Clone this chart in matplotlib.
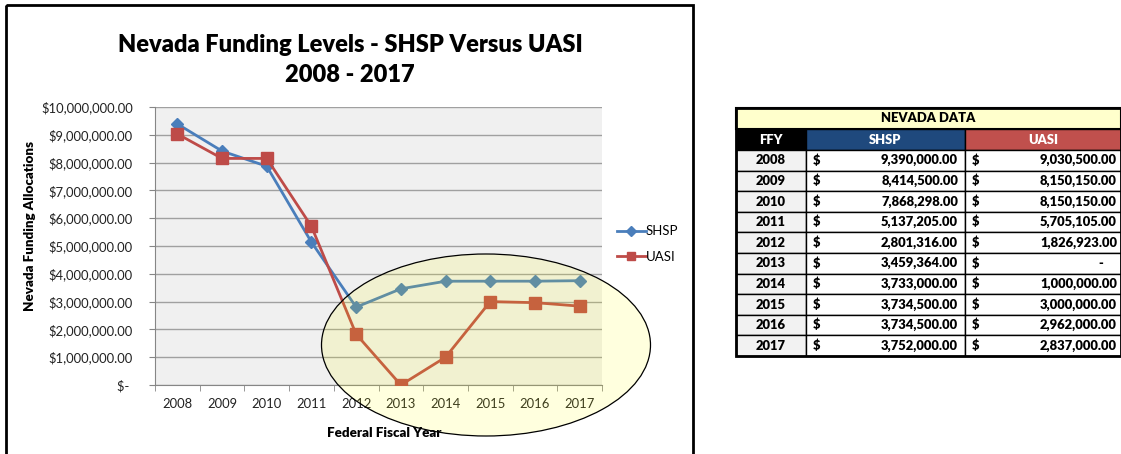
import matplotlib
matplotlib.use("Agg")
import matplotlib.pyplot as plt
from matplotlib.patches import Rectangle, Ellipse
from matplotlib.ticker import FixedLocator, NullFormatter

plt.rcParams['font.family'] = ['Lato', 'DejaVu Sans']

years = [2008, 2009, 2010, 2011, 2012, 2013, 2014, 2015, 2016, 2017]
shsp = [9390000.00, 8414500.00, 7868298.00, 5137205.00, 2801316.00,
        3459364.00, 3733000.00, 3734500.00, 3734500.00, 3752000.00]
uasi = [9030500.00, 8150150.00, 8150150.00, 5705105.00, 1826923.00,
        0.00, 1000000.00, 3000000.00, 2962000.00, 2837000.00]
y_ticks = [0, 1e6, 2e6, 3e6, 4e6, 5e6, 6e6, 7e6, 8e6, 9e6, 10e6]

W, H = 1121, 454
fig = plt.figure(figsize=(W / 100, H / 100), dpi=100)
fig.patch.set_facecolor('white')

def fx(px):
    return px / W

def fy(py):
    return 1 - py / H

# ---- line chart ----
L, R, T, B = 155, 602, 107, 385
ax = fig.add_axes([fx(L), fy(B), fx(R - L), (B - T) / H])
ax.set_facecolor('#f0f0f0')
x = list(range(len(years)))
ax.plot(x, shsp, color='#4a7ebb', lw=2.0, marker='D', ms=6.5, label='SHSP', zorder=3)
ax.plot(x, uasi, color='#be4b48', lw=2.0, marker='s', ms=8, label='UASI', zorder=3)
ax.set_xlim(-0.5, len(years) - 0.5)
ax.set_ylim(0, 10e6)
ax.set_yticks(y_ticks)

def money(v):
    if v == 0:
        return '$- '
    return '${:,.2f}'.format(v)

ax.set_yticklabels([money(v) for v in y_ticks], fontsize=9.4, color='#222222')
ax.yaxis.grid(True, color='#a0a0a0', lw=1.0)
ax.set_axisbelow(True)
ax.set_xticks(x)
ax.set_xticklabels([str(y) for y in years], fontsize=9.4, color='#222222')
ax.tick_params(axis='x', which='major', length=0, pad=9)
ax.xaxis.set_minor_locator(FixedLocator([i - 0.5 for i in range(len(years) + 1)]))
ax.xaxis.set_minor_formatter(NullFormatter())
ax.tick_params(axis='x', which='minor', length=4, color='#868686')
ax.tick_params(axis='y', length=4, color='#868686', pad=12)
for s in ['top', 'right']:
    ax.spines[s].set_visible(False)
for s in ['left', 'bottom']:
    ax.spines[s].set_color('#868686')

fig.legend(handles=ax.get_lines(), labels=['SHSP', 'UASI'],
           loc='center left', bbox_to_anchor=(fx(605), fy(244)),
           frameon=False, fontsize=9.5, handlelength=2.2, handletextpad=0.0,
           labelspacing=1.0, markerscale=0.75)

# ---- overlay (border, titles, ellipse, table) ----
ov = fig.add_axes([0, 0, 1, 1], zorder=10)
ov.set_xlim(0, W)
ov.set_ylim(H, 0)
ov.axis('off')

ov.add_patch(Rectangle((6, 5), 687, 470, fill=False, ec='black', lw=2.0))
ov.text(350, 45, 'Nevada Funding Levels - SHSP Versus UASI', ha='center', va='center',
        fontsize=17, fontweight='heavy')
ov.text(350, 75, '2008 - 2017', ha='center', va='center', fontsize=17, fontweight='heavy')
ov.text(30, 226, 'Nevada Funding Allocations', ha='center', va='center', rotation=90,
        fontsize=9.6, fontweight='heavy')
ov.text(384, 433, 'Federal Fiscal Year', ha='center', va='center',
        fontsize=9.6, fontweight='heavy')

ov.add_patch(Ellipse((486, 345), 329, 182, fc=(1, 1, 0, 0.13), ec='black', lw=0.9))

# table
c0, c1, c2, c3 = 736, 806, 965, 1121
r_top, r_title, r_head = 108, 129, 150
rh = (356 - r_head) / len(years)
tfs = 9.4
tw = 'heavy'
ov.add_patch(Rectangle((c0, r_top), c3 - c0, r_title - r_top, fc='#ffffcc', ec='black', lw=1.5))
ov.text((c0 + c3) / 2, (r_top + r_title) / 2, 'NEVADA DATA', ha='center', va='center',
        fontsize=tfs, fontweight=tw)
ov.add_patch(Rectangle((c0, r_title), c1 - c0, r_head - r_title, fc='black', ec='black', lw=1.0))
ov.add_patch(Rectangle((c1, r_title), c2 - c1, r_head - r_title, fc='#1f497d', ec='black', lw=1.0))
ov.add_patch(Rectangle((c2, r_title), c3 - c2, r_head - r_title, fc='#c0504d', ec='black', lw=1.0))
ymid = (r_title + r_head) / 2
ov.text((c0 + c1) / 2, ymid, 'FFY', ha='center', va='center', color='white', fontsize=tfs, fontweight=tw)
ov.text((c1 + c2) / 2, ymid, 'SHSP', ha='center', va='center', color='white', fontsize=tfs, fontweight=tw)
ov.text((c2 + c3) / 2, ymid, 'UASI', ha='center', va='center', color='white', fontsize=tfs, fontweight=tw)

def acct(v):
    return '-' if v == 0 else '{:,.2f}'.format(v)

for i, yr in enumerate(years):
    top = r_head + i * rh
    mid = top + rh / 2
    ov.add_patch(Rectangle((c0, top), c1 - c0, rh, fc='#f2f2f2', ec='black', lw=1.0))
    ov.add_patch(Rectangle((c1, top), c2 - c1, rh, fc='white', ec='black', lw=1.0))
    ov.add_patch(Rectangle((c2, top), c3 - c2, rh, fc='white', ec='black', lw=1.0))
    ov.text((c0 + c1) / 2, mid, str(yr), ha='center', va='center', fontsize=tfs, fontweight=tw)
    ov.text(c1 + 7, mid, '$', ha='left', va='center', fontsize=tfs, fontweight=tw)
    ov.text(c2 - 7, mid, acct(shsp[i]), ha='right', va='center', fontsize=tfs, fontweight=tw)
    ov.text(c2 + 7, mid, '$', ha='left', va='center', fontsize=tfs, fontweight=tw)
    ov.text(c3 - (4 if uasi[i] else 18), mid, acct(uasi[i]), ha='right', va='center',
            fontsize=tfs, fontweight=tw)
ov.add_patch(Rectangle((c0, r_top), c3 - c0, 356 - r_top, fill=False, ec='black', lw=2.0))

fig.savefig('out.png', dpi=100)
